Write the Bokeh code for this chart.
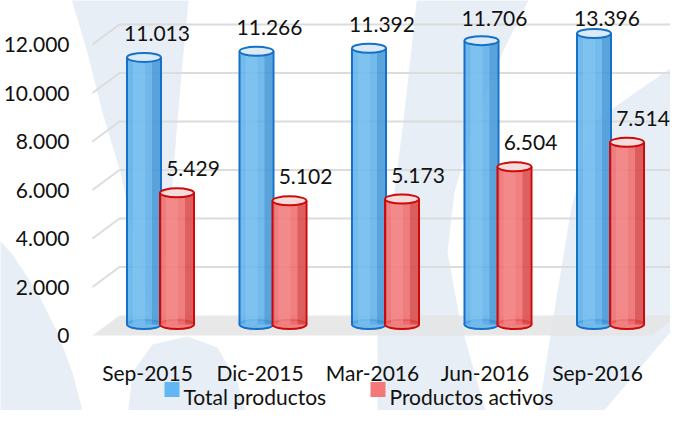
import numpy as np
from bokeh.plotting import figure
from bokeh.models import Range1d, ColumnDataSource
from bokeh.core.properties import value
from bokeh.embed import file_html
from bokeh.resources import INLINE

# ---------------- data ----------------
categories = ["Sep-2015", "Dic-2015", "Mar-2016", "Jun-2016", "Sep-2016"]
total_productos = [11013, 11266, 11392, 11706, 13396]
productos_activos = [5429, 5102, 5173, 6504, 7514]
series_names = ["Total productos", "Productos activos"]
y_ticks = [0, 2000, 4000, 6000, 8000, 10000, 12000]
y_tick_labels = ["0", "2.000", "4.000", "6.000", "8.000", "10.000", "12.000"]
AXIS_MAX = 12000

FONT = value("Lato")
FS = "21px"

# ---------------- geometry helpers (reference pixel -> data) ----------------
CAT_PX = 112.5          # px per category
X0_PX = 155.0           # px of first category label centre
Y0_PX = 343.0           # px of value 0 on the front plane
PX_PER_UNIT = 48.5 / 2000.0


def px2x(px):
    return (px - X0_PX) / CAT_PX


def px2y(py):
    return (Y0_PX - py) / PX_PER_UNIT


def dx(px):
    return px / CAT_PX


def dy(px):
    return px / PX_PER_UNIT


p = figure(width=670, height=410, output_backend="svg", toolbar_location=None,
           x_range=Range1d(px2x(8), px2x(678)), y_range=Range1d(px2y(418), px2y(8)),
           min_border=0)
p.axis.visible = False
p.grid.visible = False
p.outline_line_color = None
p.background_fill_color = "white"
p.border_fill_color = "white"

# ---------------- faint watermark ----------------
wm_shapes = [
    [(77, 0), (197, 0), (190, 70), (184, 140), (178, 220), (168, 300), (158, 330),
     (145, 260), (128, 180), (110, 120), (95, 60)],
    [(0, 240), (20, 262), (45, 300), (65, 340), (80, 380), (92, 426), (0, 426)],
    [(135, 426), (140, 380), (160, 352), (195, 344), (225, 355), (245, 390), (255, 426)],
    [(425, 0), (540, 0), (510, 60), (482, 130), (462, 200), (455, 260), (468, 330),
     (495, 426), (385, 426), (385, 330), (398, 230), (412, 120)],
    [(600, 130), (686, 70), (686, 330), (605, 426), (545, 426), (560, 330), (578, 220)],
]
p.patches(xs=[[px2x(a) for a, b in s] for s in wm_shapes],
          ys=[[px2y(b) for a, b in s] for s in wm_shapes],
          fill_color="#C4D5E7", fill_alpha=0.4, line_color=None)

# ---------------- 3D walls: gridlines + floor ----------------
x_left = px2x(100)
x_back = px2x(127)
x_right = px2x(686)
depth_v = dy(20)
for t in y_ticks[1:]:
    p.line(x=[x_left, x_back, x_right], y=[t, t + depth_v, t + depth_v],
           line_color="#DCDCDC", line_width=2)
p.patch(x=[x_left, x_back, x_right, px2x(659)], y=[0, depth_v, depth_v, 0],
        fill_color="#E4E4E4", fill_alpha=0.85, line_color=None)

# y tick labels
p.text(x=[px2x(77)] * len(y_ticks), y=y_ticks, text=y_tick_labels,
       text_font=FONT, text_font_size=FS, text_color="#111111",
       text_align="right", text_baseline="middle")

# ---------------- cylinders ----------------
BASE = px2y(332)
CYL_W = 34


def cylinders(xc, vals, body, light, dark, edge, top_fill, lab_dx):
    vals = np.asarray(vals, dtype=float)
    tops = BASE + np.minimum(vals, AXIS_MAX)
    hw = dx(CYL_W / 2)
    src = ColumnDataSource(dict(x=xc, top=tops, bottom=np.full(len(vals), BASE),
                                xl=xc - hw, xr=xc + hw,
                                xh=xc - dx(5), xd=xc + dx(12)))
    p.ellipse(x="x", y="bottom", width=CYL_W, height=9, width_units="screen",
              height_units="screen", source=src, fill_color=body, fill_alpha=0.8,
              line_color=edge, line_width=2)
    p.vbar(x="x", width=dx(CYL_W), bottom="bottom", top="top", source=src,
           fill_color=body, fill_alpha=0.85, line_color=None)
    p.vbar(x="xh", width=dx(12), bottom="bottom", top="top", source=src,
           fill_color=light, fill_alpha=0.45, line_color=None)
    p.vbar(x="xd", width=dx(8), bottom="bottom", top="top", source=src,
           fill_color=dark, fill_alpha=0.25, line_color=None)
    p.segment(x0="xl", y0="bottom", x1="xl", y1="top", source=src,
              line_color=edge, line_width=2)
    p.segment(x0="xr", y0="bottom", x1="xr", y1="top", source=src,
              line_color=edge, line_width=2)
    p.ellipse(x="x", y="top", width=CYL_W, height=9, width_units="screen",
              height_units="screen", source=src, fill_color=top_fill,
              line_color=edge, line_width=2)
    # data labels
    lab_y = np.minimum(tops + dy(24), px2y(26))
    labels = [f"{int(v):,}".replace(",", ".") for v in vals]
    p.text(x=xc + dx(lab_dx), y=lab_y, text=labels, text_font=FONT,
           text_font_size=FS, text_color="#111111", text_align="center",
           text_baseline="middle")


idx = np.arange(len(categories), dtype=float)
cylinders(idx + dx(-3.5), total_productos, "#5AAEEA", "#8CCBF5", "#1560A8",
          "#1570C8", "#DCEAF7", 13)
cylinders(idx + dx(29.5), productos_activos, "#EF6868", "#F79A9A", "#A80000",
          "#CC0A0A", "#F5DCDC", 16)

# category labels
p.text(x=idx, y=[px2y(380)] * len(categories), text=categories, text_font=FONT,
       text_font_size=FS, text_color="#111111", text_align="center",
       text_baseline="alphabetic")

# ---------------- legend ----------------
leg_sq_x = [179.5, 385.5]
leg_txt_x = [191, 397]
p.rect(x=[px2x(v) for v in leg_sq_x], y=[px2y(397)] * 2, width=15, height=15,
       width_units="screen", height_units="screen",
       fill_color=["#63B6F1", "#F37878"], line_color=None)
p.text(x=[px2x(v) for v in leg_txt_x], y=[px2y(404)] * 2, text=series_names,
       text_font=FONT, text_font_size=FS, text_color="#111111",
       text_align="left", text_baseline="alphabetic")

open("out.html", "w").write(file_html(p, INLINE))
